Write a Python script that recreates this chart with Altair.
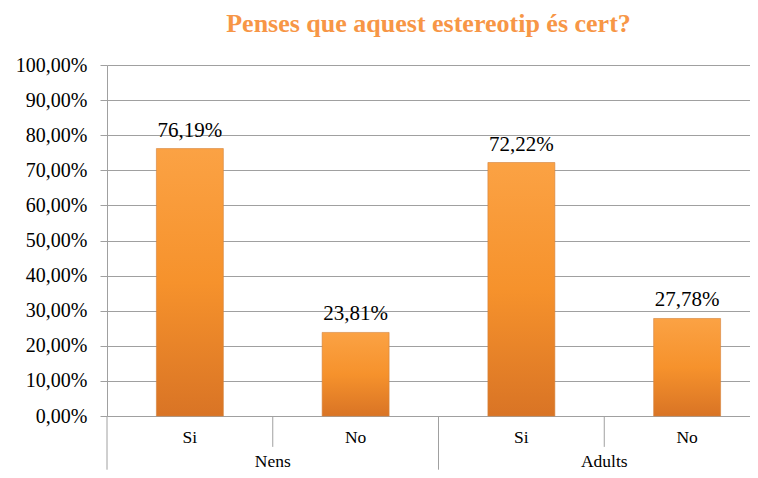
import altair as alt
import pandas as pd

groups = ["Nens", "Nens", "Adults", "Adults"]
answers = ["Si", "No", "Si", "No"]
values = [76.19, 23.81, 72.22, 27.78]
y_ticks = [0, 10, 20, 30, 40, 50, 60, 70, 80, 90, 100]

keys = [g + "-" + a for g, a in zip(groups, answers)]
labels = [f"{v:.2f}".replace(".", ",") + "%" for v in values]

df = pd.DataFrame({"key": keys, "group": groups, "answer": answers,
                   "value": values, "label": labels, "ay": [-7.7] * 4})

# divider lines of the two-level category axis
rule_df = pd.DataFrame({"key": keys, "ytop": [0] * 4, "ylow": [-15.3, -8.8, -15.3, -8.8]})
grp_df = pd.DataFrame({"group": ["Nens", "Adults"], "gy": [-14.4, -14.4]})

FONT = "Liberation Serif"
GRID = "#a0a0a0"

bar_scale = alt.Scale(domain=keys, range=[0, 663], paddingInner=0.596, paddingOuter=0.298)
cell_scale = alt.Scale(domain=keys, range=[0, 663], paddingInner=0, paddingOuter=0)
grp_scale = alt.Scale(domain=["Nens", "Adults"], range=[0, 663], paddingInner=0, paddingOuter=0)
y_scale = alt.Scale(domain=[0, 100], nice=False, clamp=False)

y_axis = alt.Axis(values=y_ticks, title=None, grid=True, gridColor=GRID,
                  domainColor=GRID, tickColor=GRID, tickSize=7,
                  labelPadding=13, labelFont=FONT, labelFontSize=20,
                  labelColor="#000000",
                  labelExpr="replace(format(datum.value, '.2f'), '.', ',') + '%'")

gradient = alt.Gradient(
    gradient="linear",
    stops=[alt.GradientStop(color="#fba244", offset=0),
           alt.GradientStop(color="#f6922c", offset=0.5),
           alt.GradientStop(color="#d97425", offset=1)],
    x1=0, x2=0, y1=0, y2=1,
)

base = alt.Chart(df)

bars = base.mark_bar(color=gradient, stroke="#d4823a", strokeWidth=0.6).encode(
    x=alt.X("key:N", scale=bar_scale, axis=None, sort=keys),
    y=alt.Y("value:Q", scale=y_scale, axis=y_axis),
)

value_text = base.mark_text(font=FONT, fontSize=21, baseline="alphabetic", dy=-12,
                            color="#000000").encode(
    x=alt.X("key:N", scale=bar_scale, axis=None, sort=keys),
    y=alt.Y("value:Q", scale=y_scale, axis=y_axis),
    text="label:N",
)

answer_text = base.mark_text(font=FONT, fontSize=17.5, baseline="alphabetic",
                             color="#000000").encode(
    x=alt.X("key:N", scale=bar_scale, axis=None, sort=keys),
    y=alt.Y("ay:Q", scale=y_scale, axis=y_axis),
    text="answer:N",
)

rules = alt.Chart(rule_df).mark_rule(color=GRID, strokeWidth=1).encode(
    x=alt.X("key:N", scale=cell_scale, axis=None, sort=keys, bandPosition=0),
    y=alt.Y("ytop:Q", scale=y_scale, axis=y_axis),
    y2=alt.Y2("ylow:Q"),
)

group_text = alt.Chart(grp_df).mark_text(font=FONT, fontSize=17.5, baseline="alphabetic",
                                         color="#000000").encode(
    x=alt.X("group:N", scale=grp_scale, axis=None, sort=["Nens", "Adults"]),
    y=alt.Y("gy:Q", scale=y_scale, axis=y_axis),
    text="group:N",
)

chart = alt.layer(bars, value_text, answer_text, rules, group_text).resolve_scale(
    x="independent"
).properties(
    width=643,
    height=351,
    title=alt.Title("Penses que aquest estereotip és cert?", font=FONT, fontSize=26,
                    fontWeight="bold", color="#f79646", anchor="middle",
                    baseline="alphabetic", frame="group", offset=-3),
    padding={"left": 7, "top": 3, "right": 0, "bottom": 0},
).configure_view(stroke=None)

chart.save("out.html", embed_options={"renderer": "svg", "actions": False})
